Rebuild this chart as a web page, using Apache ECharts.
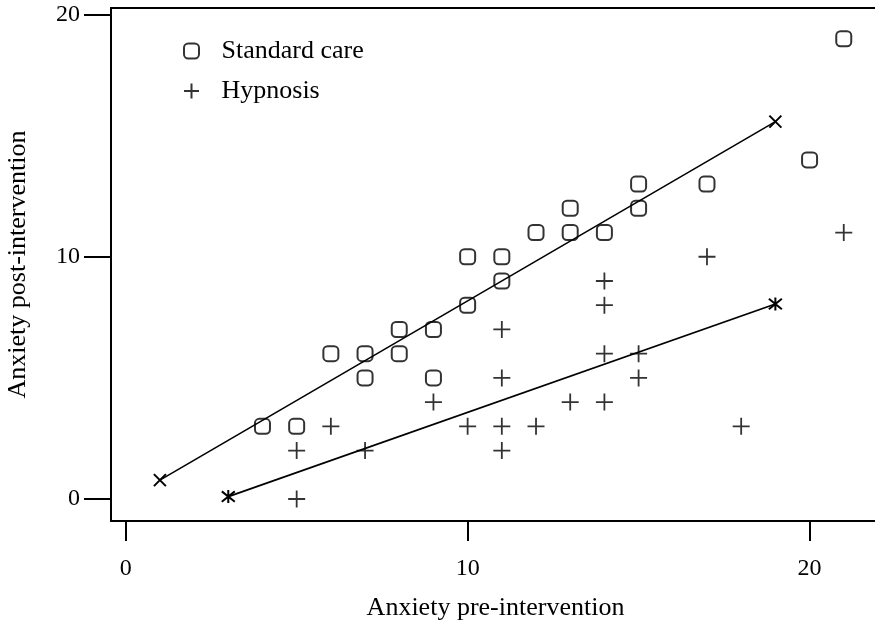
<!DOCTYPE html>
<html>
<head>
<meta charset="utf-8">
<script src="https://cdn.jsdelivr.net/npm/echarts@6/dist/echarts.min.js"></script>
<style>html,body{margin:0;padding:0;background:#fff}#c{width:875px;height:620px}</style>
</head>
<body>
<div id="c"></div>
<script>
// Data
var standardCare = [
  [4,3],[5,3],[6,6],[7,6],[7,5],[8,7],[8,6],[9,7],[9,5],[10,10],[10,8],
  [11,10],[11,9],[12,11],[13,12],[13,11],[14,11],[15,13],[15,12],[17,13],[20,14],[21,19]
];
var hypnosis = [
  [5,2],[5,0],[6,3],[7,2],[9,4],[10,3],[11,7],[11,5],[11,3],[11,2],[12,3],
  [13,4],[14,9],[14,8],[14,6],[14,4],[15,6],[15,5],[17,10],[18,3],[21,11]
];
var standardFit = [[1,0.78],[19,15.58]];
var hypnosisFit = [[3,0.1],[19,8.05]];
var xTicks = [0,10,20];
var yTicks = [0,10,20];

var SERIF = 'Liberation Serif';
var squarePath = 'path://M4,0H10A4,4 0 0 1 14,4V10A4,4 0 0 1 10,14H4A4,4 0 0 1 0,10V4A4,4 0 0 1 4,0Z';
var plusPath = 'path://M0,-1V1M-1,0H1';
var crossPath = 'path://M-1,-1L1,1M1,-1L-1,1';
var starPath = 'path://M-1,-1L1,1M1,-1L-1,1M0,-1.25V1.25';

var chart = echarts.init(document.getElementById('c'), null, {renderer:'canvas'});
chart.setOption({
  animation: false,
  backgroundColor: '#fff',
  grid: {left:111, top:8, right:-5, bottom:99, containLabel:false, outerBoundsMode:'none',
         show:true, borderColor:'#000', borderWidth:2, backgroundColor:'transparent'},
  legend: {
    data: ['Standard care','Hypnosis'],
    orient: 'vertical', left: 178, top: 33,
    itemWidth: 26, itemHeight: 15, itemGap: 14,
    selectedMode: false,
    textStyle: {fontFamily: SERIF, fontSize: 26, color:'#000', padding:[0,0,0,12]}
  },
  xAxis: {
    type:'value', min:-0.43, max:22.06,
    name:'Anxiety pre-intervention', nameLocation:'middle', nameGap:74,
    nameTextStyle:{fontFamily:SERIF, fontSize:26, color:'#000'},
    axisLine:{show:true, onZero:false, lineStyle:{color:'#000', width:2}},
    axisTick:{show:true, inside:false, length:20, customValues:xTicks, lineStyle:{color:'#000', width:2}},
    axisLabel:{show:true, customValues:xTicks, margin:36, fontFamily:SERIF, fontSize:24, color:'#000'},
    splitLine:{show:false}
  },
  yAxis: {
    type:'value', min:-0.908, max:20.27,
    name:'Anxiety post-intervention', nameLocation:'middle', nameGap:80,
    nameTextStyle:{fontFamily:SERIF, fontSize:26, color:'#000'},
    axisLine:{show:true, onZero:false, lineStyle:{color:'#000', width:2}},
    axisTick:{show:true, inside:false, length:27, customValues:yTicks, lineStyle:{color:'#000', width:2}},
    axisLabel:{show:true, customValues:yTicks, margin:31, fontFamily:SERIF, fontSize:24, color:'#000'},
    splitLine:{show:false}
  },
  series: [
    {
      name:'Standard care', type:'scatter', data:standardCare,
      symbol:squarePath, symbolSize:15,
      itemStyle:{color:'transparent', borderColor:'#000', borderWidth:2},
      emphasis:{disabled:true}, silent:true
    },
    {
      name:'Hypnosis', type:'scatter', data:hypnosis,
      symbol:plusPath, symbolSize:17,
      itemStyle:{color:'transparent', borderColor:'#000', borderWidth:1.8},
      emphasis:{disabled:true}, silent:true
    },
    {
      name:'Standard fit', type:'line', data:standardFit,
      symbol:crossPath, symbolSize:12, showSymbol:true, showAllSymbol:true,
      lineStyle:{color:'#000', width:1.6},
      itemStyle:{color:'transparent', borderColor:'#000', borderWidth:2},
      emphasis:{disabled:true}, silent:true
    },
    {
      name:'Hypnosis fit', type:'line', data:hypnosisFit,
      symbol:starPath, symbolSize:13, showSymbol:true, showAllSymbol:true,
      lineStyle:{color:'#000', width:1.8},
      itemStyle:{color:'transparent', borderColor:'#000', borderWidth:2},
      emphasis:{disabled:true}, silent:true
    }
  ]
});
</script>
</body>
</html>
